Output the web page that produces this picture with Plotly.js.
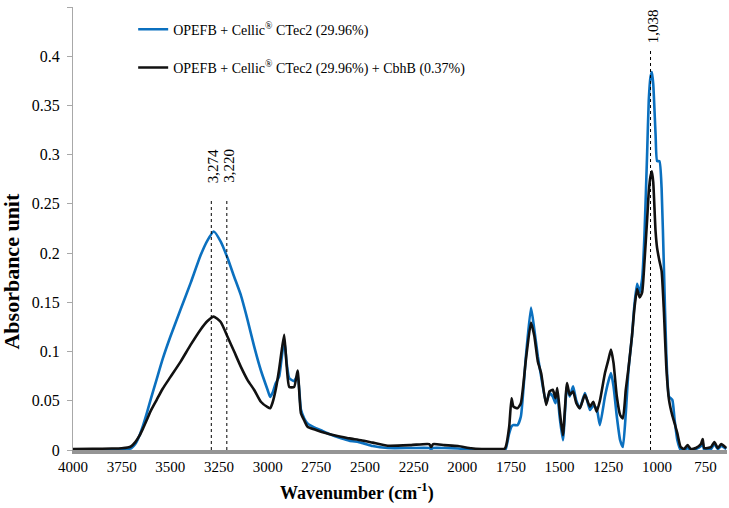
<!DOCTYPE html>
<html>
<head>
<meta charset="utf-8">
<script src="https://cdn.plot.ly/plotly-3.0.1.min.js"></script>
<style>html,body{margin:0;padding:0;background:#fff;}#chart{width:729px;height:508px;}</style>
</head>
<body>
<div id="chart"></div>
<script>
// Wavenumber (cm-1)
const wavenumber = [4000,3900,3800,3750,3720,3700,3680,3660,3640,3620,3600,3570,3540,3500,3447,3395,3344,3309,3277,3241,3206,3172,3138,3103,3069,3035,3000,2987,2975,2958,2941,2930,2915,2902,2889,2864,2846,2829,2812,2795,2761,2726,2680,2623,2580,2520,2460,2383,2263,2170,2160,2150,2092,2022,1954,1900,1800,1785,1777,1759,1747,1737,1716,1699,1673,1647,1630,1612,1595,1569,1552,1535,1521,1512,1500,1483,1462,1448,1431,1414,1396,1370,1344,1327,1310,1293,1267,1249,1236,1223,1206,1189,1175,1160,1146,1128,1116,1102,1089,1076,1064,1050,1042,1033,1026,1019,1007,999,987,976,964,952,938,921,909,895,878,860,843,826,800,774,765,757,722,705,687,670,644];
// OPEFB + Cellic CTec2 (29.96%)
const absCTec2 = [0,0,0.0002,0.0005,0.0008,0.002,0.006,0.014,0.025,0.038,0.052,0.072,0.092,0.115,0.143,0.170,0.198,0.213,0.222,0.2117,0.195,0.176,0.1575,0.132,0.105,0.081,0.061,0.054,0.058,0.068,0.0745,0.090,0.112,0.088,0.073,0.070,0.076,0.041,0.032,0.027,0.023,0.020,0.016,0.012,0.0095,0.0075,0.004,0.002,0.002,0.002,0.001,0.002,0.002,0.0015,0.0005,0.0003,0.0002,0.0002,0.001,0.0168,0.024,0.0253,0.0253,0.034,0.0953,0.1448,0.1226,0.0953,0.0748,0.0475,0.0578,0.0543,0.0475,0.0578,0.034,0.0099,0.0646,0.0543,0.0646,0.050,0.0424,0.0578,0.0407,0.045,0.0424,0.0253,0.0543,0.070,0.0782,0.0646,0.034,0.0099,0.003,0.0372,0.0817,0.116,0.1465,0.1687,0.160,0.1739,0.2183,0.3036,0.3549,0.3788,0.3839,0.372,0.3207,0.2934,0.2934,0.266,0.184,0.0987,0.0543,0.0509,0.0304,0.0099,0,0,0.002,0,0.001,0.004,0.008,0,0.001,0.006,0.001,0.004,0.001];
// OPEFB + Cellic CTec2 (29.96%) + CbhB (0.37%)
const absCTec2CbhB = [0.001,0.0012,0.0015,0.0018,0.0025,0.004,0.008,0.014,0.022,0.031,0.040,0.051,0.062,0.074,0.0898,0.107,0.1225,0.131,0.1355,0.130,0.115,0.100,0.0847,0.071,0.061,0.049,0.0435,0.0424,0.048,0.062,0.082,0.098,0.117,0.085,0.064,0.064,0.0806,0.0374,0.030,0.0237,0.021,0.0186,0.016,0.0135,0.0118,0.010,0.0075,0.0044,0.005,0.006,0.003,0.006,0.005,0.004,0.0017,0.001,0.001,0.001,0.003,0.0236,0.0526,0.044,0.0424,0.0475,0.092,0.1295,0.116,0.090,0.0782,0.0458,0.0595,0.0612,0.0526,0.063,0.0407,0.015,0.068,0.056,0.0595,0.0475,0.0424,0.056,0.044,0.049,0.039,0.050,0.0782,0.092,0.1021,0.0885,0.0543,0.0355,0.0321,0.0612,0.0833,0.116,0.143,0.1636,0.155,0.1602,0.191,0.2353,0.262,0.278,0.2831,0.272,0.222,0.205,0.192,0.182,0.140,0.085,0.0509,0.035,0.027,0.0168,0.003,0.001,0.005,0.001,0.002,0.006,0.011,0.002,0.003,0.008,0.002,0.006,0.002];

const seriesNames = ['OPEFB + Cellic<sup>®</sup> CTec2 (29.96%)', 'OPEFB + Cellic<sup>®</sup> CTec2 (29.96%) + CbhB (0.37%)'];
const xTickValues = [4000,3750,3500,3250,3000,2750,2500,2250,2000,1750,1500,1250,1000,750];
const xTickLabels = ['4000','3750','3500','3250','3000','2750','2500','2250','2000','1750','1500','1250','1000','750'];
const peakWavenumbers = [3274, 3220, 1038];
const peakLabels = ['3,274', '3,220', '1,038'];

// marker styling: line heights (axis units), pixel nudges, label offsets
const peakLineTops = [0.255, 0.255, 0.4065];
const peakPixelNudge = [-3, 2, 1];
const peakLabelShift = [14, 14, 4];

const serif = '"Liberation Serif", "Times New Roman", serif';

const traces = [
  {x: wavenumber, y: absCTec2, type: 'scatter', mode: 'lines', name: seriesNames[0], legendgroup: 'a',
   line: {color: '#0b70bf', width: 2.6, shape: 'spline', smoothing: 0.5}},
  {x: wavenumber, y: absCTec2CbhB, type: 'scatter', mode: 'lines', name: seriesNames[1], legendgroup: 'b',
   line: {color: '#111111', width: 2.6, shape: 'spline', smoothing: 0.5}}
];

const shapes = peakWavenumbers.map((w, i) => ({
  type: 'line', xref: 'x', yref: 'y', xsizemode: 'pixel', xanchor: w,
  x0: peakPixelNudge[i], x1: peakPixelNudge[i], y0: 0, y1: peakLineTops[i],
  line: {color: '#000', width: 1, dash: 'dot'}
}));

const annotations = peakWavenumbers.map((w, i) => ({
  xref: 'x', yref: 'y', x: w, y: peakLineTops[i], text: peakLabels[i], textangle: -90,
  showarrow: false, xanchor: 'center', yanchor: 'bottom', yshift: peakLabelShift[i], xshift: peakPixelNudge[i] + 2,
  font: {family: serif, size: 15, color: '#000'}
}));

annotations.push({
  xref: 'paper', yref: 'paper', x: -0.094, y: 0.404, text: '<b>Absorbance unit</b>', textangle: -90,
  showarrow: false, xanchor: 'center', yanchor: 'middle', font: {family: serif, size: 22, color: '#000'}
});
annotations.push({
  xref: 'paper', yref: 'paper', x: 0.435, y: -0.095, text: '<b>Wavenumber (cm<sup>-1</sup>)</b>',
  showarrow: false, xanchor: 'center', yanchor: 'middle', font: {family: serif, size: 18, color: '#000'}
});

const layout = {
  width: 729, height: 508,
  margin: {l: 73, r: 2, t: 7, b: 58, pad: 0},
  paper_bgcolor: '#fff', plot_bgcolor: '#fff',
  font: {family: serif, size: 15, color: '#000'},
  showlegend: true,
  legend: {x: 0.092, y: 0.985, xanchor: 'left', yanchor: 'top', bgcolor: 'rgba(0,0,0,0)',
           font: {family: serif, size: 14, color: '#000'}, traceorder: 'grouped', tracegroupgap: 17, itemwidth: 30},
  xaxis: {range: [4000, 640], tickmode: 'array', tickvals: xTickValues, ticktext: xTickLabels,
          showgrid: false, zeroline: false, showline: true, linecolor: '#959595', linewidth: 4,
          ticks: '', tickfont: {family: serif, size: 15, color: '#000'}},
  yaxis: {range: [0, 0.45], dtick: 0.05, tick0: 0, showgrid: false, zeroline: false,
          showline: true, linecolor: '#a8a8a8', linewidth: 1, ticks: 'outside', ticklen: 5, tickcolor: '#a8a8a8',
          ticklabelstandoff: 4, tickfont: {family: serif, size: 16, color: '#000'}},
  shapes: shapes,
  annotations: annotations
};

Plotly.newPlot('chart', traces, layout, {displayModeBar: false, staticPlot: true});
</script>
</body>
</html>
